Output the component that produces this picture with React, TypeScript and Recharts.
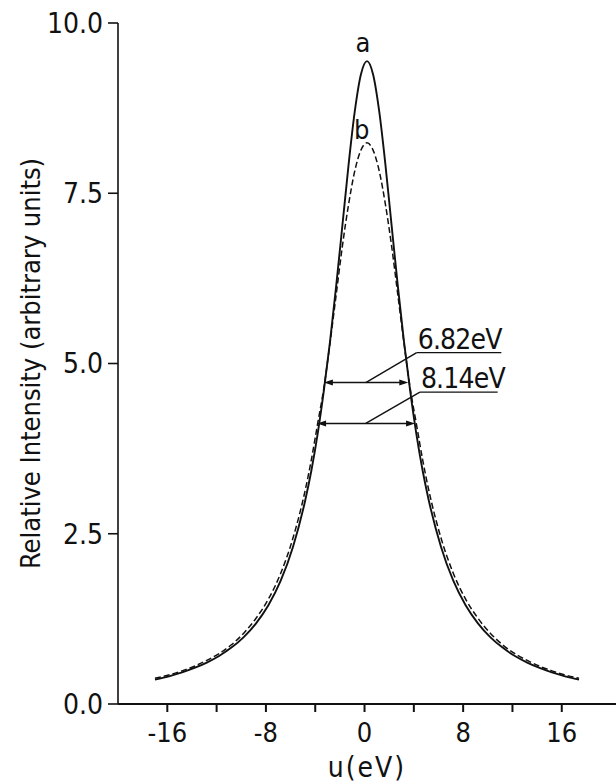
import React from "react";
import {
  LineChart,
  Line,
  XAxis,
  YAxis,
  ReferenceLine,
  ReferenceDot,
} from "recharts";

// photon energy u (eV) and the two profiles
const uValues = [
  -17.0, -15.8, -14.8, -13.8, -12.8, -11.8, -10.8, -9.8, -8.8, -7.8, -6.8, -5.8, -4.8, -4.3, -3.8,
  -3.3, -2.8, -2.3, -1.8, -1.3, -0.8, -0.3, 0.2, 0.7, 1.2, 1.7, 2.2, 2.7, 3.2, 3.7, 4.2, 4.7, 5.2,
  6.2, 7.2, 8.2, 9.2, 10.2, 11.2, 12.2, 13.2, 14.2, 15.2, 16.2, 17.4,
];
const curveA = [
  0.357, 0.41, 0.464, 0.529, 0.608, 0.705, 0.828, 0.983, 1.185, 1.45, 1.81, 2.31, 3.0, 3.44, 3.97,
  4.6, 5.32, 6.14, 7.02, 7.91, 8.69, 9.24, 9.44, 9.24, 8.69, 7.91, 7.02, 6.14, 5.32, 4.6, 3.97, 3.44,
  3.0, 2.31, 1.81, 1.45, 1.185, 0.983, 0.828, 0.705, 0.608, 0.529, 0.464, 0.41, 0.357,
];
const curveB = [
  0.378, 0.43, 0.487, 0.555, 0.64, 0.74, 0.87, 1.04, 1.26, 1.54, 1.92, 2.44, 3.15, 3.6, 4.12, 4.64,
  5.3, 6.01, 6.72, 7.33, 7.82, 8.13, 8.24, 8.13, 7.82, 7.33, 6.72, 6.01, 5.3, 4.64, 4.12, 3.6, 3.15,
  2.44, 1.92, 1.54, 1.26, 1.04, 0.87, 0.74, 0.64, 0.555, 0.487, 0.43, 0.378,
];

const xTicks = [-16, -12, -8, -4, 0, 4, 8, 12, 16];
const yTicks = [0, 2.5, 5, 7.5, 10];

// FWHM markers: label, half maximum, arrow ends, leader elbow and end
const fwhmLabels = ["6.82eV", "8.14eV"];
const halfMax = [4.72, 4.12];
const arrowLeft = [-3.3, -3.85];
const arrowRight = [3.55, 4.1];
const leaderStart = [0.1, 0.1];
const elbowU = [4.23, 4.49];
const elbowY = [5.16, 4.58];
const leaderEndU = [11.1, 10.8];

const curveNames = ["a", "b"];
const curveLabelU = [-0.12, -0.23];
const curveLabelY = [9.57, 8.29];

const data = uValues.map((u, i) => ({ u, a: curveA[i], b: curveB[i] }));

const FONT = "'DejaVu Sans Condensed', 'DejaVu Sans', sans-serif";
const INK = "#111";

function ArrowLine(props: any) {
  const { x1, y1, x2, y2 } = props;
  const h = 9;
  const w = 3;
  return (
    <g>
      <line x1={x1 + 4} y1={y1} x2={x2 - 4} y2={y2} stroke={INK} strokeWidth={1.4} />
      <polygon points={`${x1},${y1} ${x1 + h},${y1 - w} ${x1 + h},${y1 + w}`} fill={INK} />
      <polygon points={`${x2},${y2} ${x2 - h},${y2 - w} ${x2 - h},${y2 + w}`} fill={INK} />
    </g>
  );
}

function LeaderWithText(text: string) {
  return (props: any) => {
    const { x1, y1, x2, y2 } = props;
    return (
      <g>
        <line x1={x1} y1={y1} x2={x2} y2={y2} stroke={INK} strokeWidth={1.4} />
        <text x={x1 + 1} y={y1 - 4} fontFamily={FONT} fontSize={28} fill={INK} letterSpacing={-0.8}>
          {text}
        </text>
      </g>
    );
  };
}

function CurveName(text: string) {
  return (props: any) => (
    <text x={props.cx} y={props.cy} textAnchor="middle" fontFamily={FONT} fontSize={27} fill={INK}>
      {text}
    </text>
  );
}

export default function App() {
  return (
    <div style={{ width: 616, height: 784 }}>
      <style>{`body{margin:0}`}</style>
      <LineChart width={616} height={784} data={data} margin={{ top: 23, right: 0, bottom: 0, left: 0 }}>
        <XAxis
          dataKey="u"
          type="number"
          domain={[-20, 20.4]}
          ticks={xTicks}
          allowDataOverflow
          height={80}
          stroke={INK}
          strokeWidth={2}
          tickSize={8}
          tickMargin={11}
          tickFormatter={(v: number) => (v % 8 === 0 ? String(v) : "")}
          tick={{ fill: INK, fontSize: 27, fontFamily: FONT }}
          label={{
            value: "u(eV)",
            position: "insideBottom",
            offset: 7,
            fill: INK,
            fontSize: 28,
            fontFamily: FONT,
            letterSpacing: 2,
          }}
        />
        <YAxis
          type="number"
          domain={[0, 10]}
          ticks={yTicks}
          width={118}
          stroke={INK}
          strokeWidth={1.6}
          tickSize={10}
          tickMargin={5}
          tickFormatter={(v: number) => v.toFixed(1)}
          tick={{ fill: INK, fontSize: 28, fontFamily: FONT }}
          label={{
            value: "Relative Intensity (arbitrary units)",
            angle: -90,
            position: "insideLeft",
            offset: 30,
            style: { textAnchor: "middle" },
            fill: INK,
            fontSize: 27,
            fontFamily: FONT,
          }}
        />
        <Line
          type="monotone"
          dataKey="a"
          stroke={INK}
          strokeWidth={1.9}
          dot={false}
          isAnimationActive={false}
        />
        <Line
          type="monotone"
          dataKey="b"
          stroke={INK}
          strokeWidth={1.5}
          strokeDasharray="6 3"
          dot={false}
          isAnimationActive={false}
        />
        {fwhmLabels.map((t, i) => (
          <ReferenceLine
            key={`arrow-${t}`}
            segment={[
              { x: arrowLeft[i], y: halfMax[i] },
              { x: arrowRight[i], y: halfMax[i] },
            ]}
            shape={ArrowLine}
          />
        ))}
        {fwhmLabels.map((t, i) => (
          <ReferenceLine
            key={`diag-${t}`}
            segment={[
              { x: leaderStart[i], y: halfMax[i] },
              { x: elbowU[i], y: elbowY[i] },
            ]}
            stroke={INK}
            strokeWidth={1.4}
          />
        ))}
        {fwhmLabels.map((t, i) => (
          <ReferenceLine
            key={`lead-${t}`}
            segment={[
              { x: elbowU[i], y: elbowY[i] },
              { x: leaderEndU[i], y: elbowY[i] },
            ]}
            shape={LeaderWithText(t)}
          />
        ))}
        {curveNames.map((n, i) => (
          <ReferenceDot key={n} x={curveLabelU[i]} y={curveLabelY[i]} r={0} shape={CurveName(n)} />
        ))}
      </LineChart>
    </div>
  );
}
